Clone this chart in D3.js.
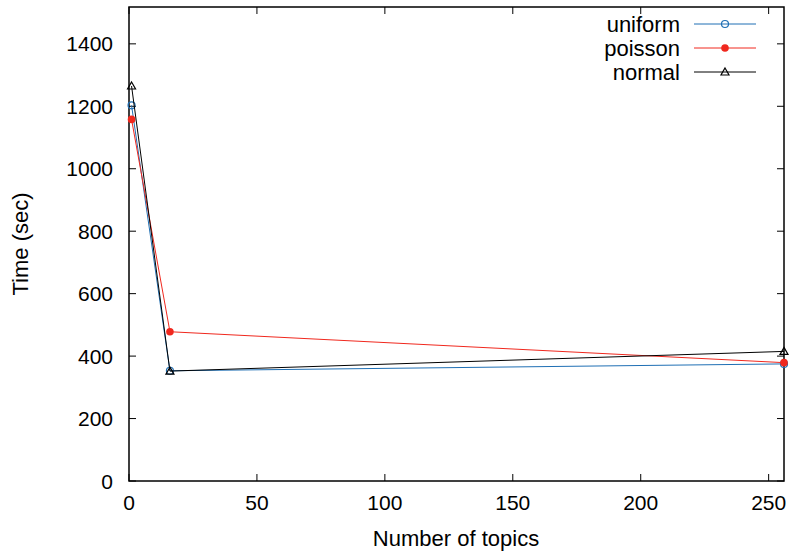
<!DOCTYPE html>
<html>
<head>
<meta charset="utf-8">
<script src="https://cdn.jsdelivr.net/npm/d3@7"></script>
<style>
  body { margin: 0; background: #fff; }
  text { font-family: "Liberation Sans", Arial, sans-serif; fill: #000; }
</style>
</head>
<body>
<svg id="chart" width="792" height="553"></svg>
<script>
// Run time versus number of topics for three distributions
const topics = [1, 16, 256];
const uniformTimes = [1203, 353, 375];
const poissonTimes = [1158, 478, 379];
const normalTimes = [1265, 352, 415];
const seriesNames = ["uniform", "poisson", "normal"];
const xTicks = [0, 50, 100, 150, 200, 250];
const yTicks = [0, 200, 400, 600, 800, 1000, 1200, 1400];

const series = [
  { name: seriesNames[0], values: uniformTimes, color: "#1f6fb4", marker: "circle" },
  { name: seriesNames[1], values: poissonTimes, color: "#f0281e", marker: "dot" },
  { name: seriesNames[2], values: normalTimes, color: "#000000", marker: "triangle" }
];

const svg = d3.select("#chart");
const L = 129, R = 784, T = 7, B = 481;

const x = d3.scaleLinear().domain([0, 256]).range([L, R]);
const y = d3.scaleLinear().domain([0, 1518]).range([B, T]);

const tickLen = 7;
const fs = 21;
const fsLabel = 22;

// Ticks (inward, mirrored on all sides)
const g = svg.append("g");
xTicks.forEach(t => {
  g.append("line").attr("x1", x(t)).attr("x2", x(t)).attr("y1", B).attr("y2", B - tickLen)
    .attr("stroke", "#000").attr("stroke-width", 1);
  g.append("line").attr("x1", x(t)).attr("x2", x(t)).attr("y1", T).attr("y2", T + tickLen)
    .attr("stroke", "#000").attr("stroke-width", 1);
  g.append("text").attr("x", x(t)).attr("y", B + 29).attr("text-anchor", "middle")
    .attr("font-size", fs).text(t);
});
yTicks.forEach(t => {
  g.append("line").attr("x1", L).attr("x2", L + tickLen).attr("y1", y(t)).attr("y2", y(t))
    .attr("stroke", "#000").attr("stroke-width", 1);
  g.append("line").attr("x1", R).attr("x2", R - tickLen).attr("y1", y(t)).attr("y2", y(t))
    .attr("stroke", "#000").attr("stroke-width", 1);
  g.append("text").attr("x", L - 16).attr("y", y(t) + 7.5).attr("text-anchor", "end")
    .attr("font-size", fs).text(t);
});

// Frame
svg.append("rect").attr("x", L).attr("y", T).attr("width", R - L).attr("height", B - T)
  .attr("fill", "none").attr("stroke", "#000").attr("stroke-width", 1.5);

// Axis labels
svg.append("text").attr("x", 456).attr("y", 546).attr("text-anchor", "middle")
  .attr("font-size", fsLabel).text("Number of topics");
svg.append("text").attr("transform", `translate(28,${(T + B) / 2}) rotate(-90)`)
  .attr("text-anchor", "middle").attr("font-size", fsLabel).text("Time (sec)");

function drawMarker(sel, s, cx, cy) {
  if (s.marker === "circle") {
    sel.append("circle").attr("cx", cx).attr("cy", cy).attr("r", 3.5)
      .attr("fill", "none").attr("stroke", s.color).attr("stroke-width", 1.2);
  } else if (s.marker === "dot") {
    sel.append("circle").attr("cx", cx).attr("cy", cy).attr("r", 3.8).attr("fill", s.color);
  } else {
    const r = 4;
    sel.append("path")
      .attr("d", `M${cx},${cy - r}L${cx + r},${cy + r * 0.75}L${cx - r},${cy + r * 0.75}Z`)
      .attr("fill", "none").attr("stroke", s.color).attr("stroke-width", 1.2);
  }
}

const line = d3.line().x(d => x(d[0])).y(d => y(d[1]));
series.forEach(s => {
  const pts = topics.map((t, i) => [t, s.values[i]]);
  svg.append("path").datum(pts).attr("d", line).attr("fill", "none")
    .attr("stroke", s.color).attr("stroke-width", 1);
  pts.forEach(p => drawMarker(svg, s, x(p[0]), y(p[1])));
});

// Legend
series.forEach((s, i) => {
  const ly = 24 + i * 24;
  svg.append("text").attr("x", 680).attr("y", ly + 7.5).attr("text-anchor", "end")
    .attr("font-size", fsLabel).text(s.name);
  svg.append("line").attr("x1", 694).attr("x2", 756).attr("y1", ly).attr("y2", ly)
    .attr("stroke", s.color).attr("stroke-width", 1);
  drawMarker(svg, s, 725, ly);
});
</script>
</body>
</html>
